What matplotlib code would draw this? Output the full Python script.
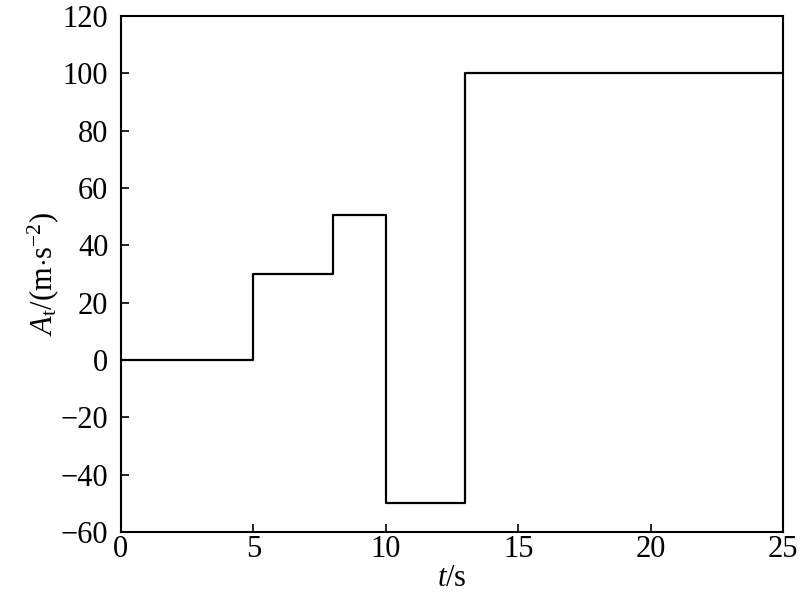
import matplotlib
matplotlib.use('Agg')
from matplotlib import pyplot as plt

# step signal: value held from each time until the next one
t_edges = [0, 5, 8, 10, 13, 25]
accel = [0, 30, 50.5, -50, 100, 100]

xticks = [0, 5, 10, 15, 20, 25]
yticks = [-60, -40, -20, 0, 20, 40, 60, 80, 100, 120]

plt.rcParams['font.family'] = ['Liberation Serif', 'DejaVu Serif']
plt.rcParams['mathtext.fontset'] = 'custom'
plt.rcParams['mathtext.rm'] = 'Liberation Serif'
plt.rcParams['mathtext.it'] = 'Liberation Serif:italic'

fig = plt.figure(figsize=(8, 6.11), dpi=100)
ax = fig.add_axes([0.151, 0.129, 0.828, 0.845])
ax.step(t_edges, accel, where='post', color='black', lw=1.6)

ax.set_xlim(0, 25)
ax.set_ylim(-60, 120)
ax.set_xticks(xticks)
ax.set_yticks(yticks)
ax.set_yticklabels([str(v).replace('-', '\u2212') for v in yticks])
ax.tick_params(direction='in', length=6, width=1.2, labelsize=22,
               top=False, right=False)
ax.tick_params(axis='x', pad=2)
ax.tick_params(axis='y', pad=9)
for s in ax.spines.values():
    s.set_linewidth(1.5)

ax.set_xlabel(r'$t$/s', fontsize=22, labelpad=0)
ax.set_ylabel(r'$A_\mathrm{t}$/(m$\cdot$s$^{-2}$)', fontsize=22, labelpad=0)

fig.savefig('out.png', dpi=100)
